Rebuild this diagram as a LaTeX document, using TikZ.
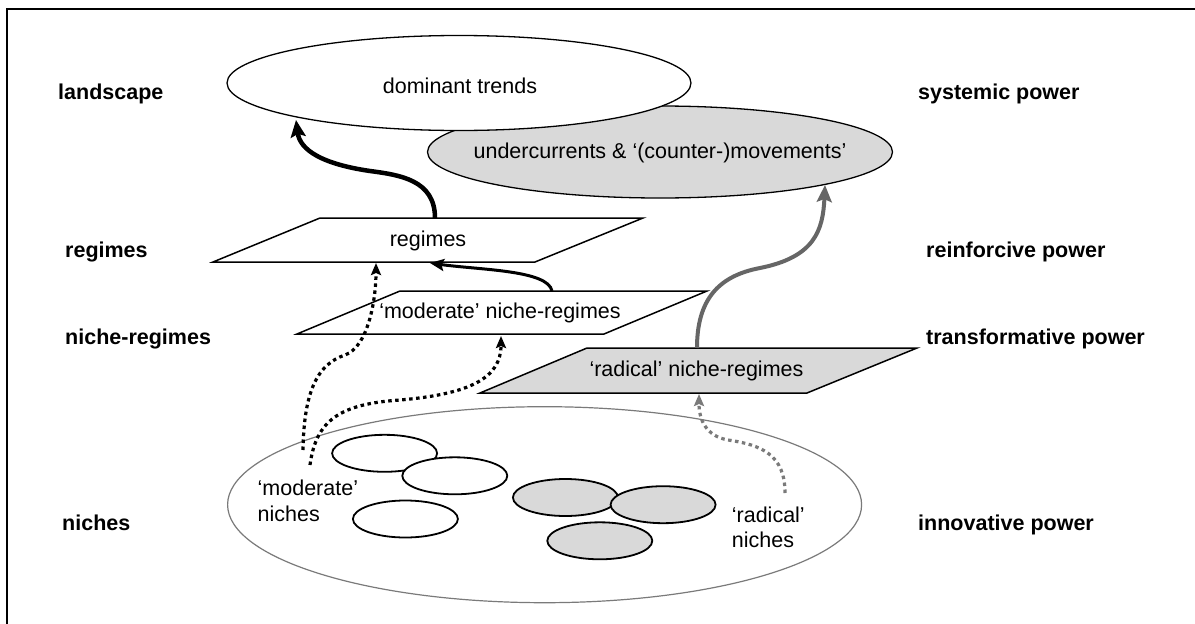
\documentclass[tikz,border=0pt]{standalone}
\usepackage{fontspec}
\setmainfont{Liberation Sans}
\usetikzlibrary{shapes.geometric,arrows.meta}
\definecolor{lgrey}{HTML}{D9D9D9}
\definecolor{mgrey}{HTML}{666666}
\definecolor{ogrey}{HTML}{7A7A7A}
\begin{document}
\begin{tikzpicture}[x=1pt,y=-1pt,
  font=\fontsize{21.5}{25}\selectfont,
  lbl/.style={anchor=base west, inner sep=0, font=\fontsize{21.5}{25}\selectfont\bfseries},
  txt/.style={anchor=base, inner sep=0},
  ltxt/.style={anchor=base west, inner sep=0},
  oval/.style={ellipse, draw, line width=1.3pt, fill=white, inner sep=0},
  smalloval/.style={ellipse, draw, line width=1.8pt, fill=white, inner sep=0, minimum width=105pt, minimum height=37pt},
  plane/.style={draw, line width=1.5pt, fill=white, line join=miter},
  bigarrow/.style={line width=4.5pt, -{Stealth[length=17pt,width=15pt,inset=3pt]}},
  midarrow/.style={line width=3pt, -{Stealth[length=14pt,width=12pt,inset=2.5pt]}},
  dotarrow/.style={line width=3.2pt, dash pattern=on 3.5pt off 3.5pt, -{Stealth[length=12pt,width=10pt,inset=2pt]}}
]
\useasboundingbox (0,0) rectangle (1195,624);
\fill[white] (0,0) rectangle (1195,624);
% frame
\draw[line width=2pt] (7,624) -- (7,9) -- (1195,9);

% side labels
\node[lbl] (lland) at (58,99) {landscape};
\node[lbl] (lreg) at (65,257) {regimes};
\node[lbl] (lnr) at (65,344) {niche-regimes};
\node[lbl] (lni) at (62,530) {niches};
\node[lbl] (rsys) at (918,99) {systemic power};
\node[lbl] (rrei) at (926,257) {reinforcive power};
\node[lbl] (rtra) at (926,344) {transformative power};
\node[lbl] (rinn) at (918,530) {innovative power};

% landscape ellipses
\node[oval, fill=lgrey, minimum width=465pt, minimum height=92pt] (under) at (660,152) {};
\node[txt] (undert) at (660,158) {undercurrents \& ‘(counter-)movements’};
\node[oval, minimum width=464pt, minimum height=95pt] (dom) at (459,83) {};
\node[txt] (domt) at (460,93) {dominant trends};

% regimes plane
\draw[plane] (213,262) -- (320,218) -- (643,218) -- (535,262) -- cycle;
\node[txt] (regt) at (428,246) {regimes};
\coordinate (regTop) at (435,218);
\coordinate (domB) at (296,120);
\draw[bigarrow] (regTop) .. controls (435,180) and (400,175) .. (370,171)
  .. controls (322,164) and (300,150) .. (domB);

% moderate niche-regimes plane
\draw[plane] (297,334) -- (400,291) -- (707,291) -- (604,334) -- cycle;
\node[txt] (modt) at (500,318) {‘moderate’ niche-regimes};
\coordinate (modTop) at (552,291);
\coordinate (regB1) at (430,263);
\draw[midarrow] (modTop) .. controls (548,270) and (480,270) .. (regB1);

% radical niche-regimes plane
\draw[plane, fill=lgrey] (480,393) -- (587,348) -- (917,348) -- (807,393) -- cycle;
\node[txt] (radt) at (696.5,376) {‘radical’ niche-regimes};
\coordinate (radTop) at (697,348);
\coordinate (undB) at (825,185);
\draw[bigarrow, mgrey, line width=4pt] (radTop) .. controls (697,300) and (718,276) .. (760,268)
  .. controls (815,257) and (823,230) .. (undB);

% niches
\node[ellipse, draw=ogrey, line width=1.2pt, inner sep=0, minimum width=634pt, minimum height=196pt] (niches) at (544.6,504.7) {};
\node[smalloval] (m1) at (384.6,453.3) {};
\node[smalloval] (m2) at (454.8,475.8) {};
\node[smalloval] (m3) at (405.4,519) {};
\node[smalloval, fill=lgrey] (r1) at (565.4,497.5) {};
\node[smalloval, fill=lgrey] (r2) at (663.1,504.7) {};
\node[smalloval, fill=lgrey] (r3) at (599.8,540.8) {};

\node[ltxt] (mnt1) at (257.5,495) {‘moderate’};
\node[ltxt] (mnt2) at (257.5,521) {niches};
\node[ltxt] (rnt1) at (731.7,522) {‘radical’};
\node[ltxt] (rnt2) at (731.7,547) {niches};

% dotted arrows
\coordinate (mnS1) at (303,450);
\coordinate (regB2) at (376,263);
\coordinate (mnS2) at (310,465);
\coordinate (modB) at (501,336);
\coordinate (rnS) at (785,493);
\coordinate (radB) at (699,394);
\draw[dotarrow] (mnS1) .. controls (304,390) and (318,364) .. (345,355)
  .. controls (368,347) and (376,300) .. (regB2);
\draw[dotarrow] (mnS2) .. controls (316,420) and (340,404) .. (400,400)
  .. controls (470,394) and (501,378) .. (modB);
\draw[dotarrow, ogrey] (rnS) .. controls (785,455) and (762,445) .. (728,440)
  .. controls (706,436) and (699,420) .. (radB);
\end{tikzpicture}
\end{document}
